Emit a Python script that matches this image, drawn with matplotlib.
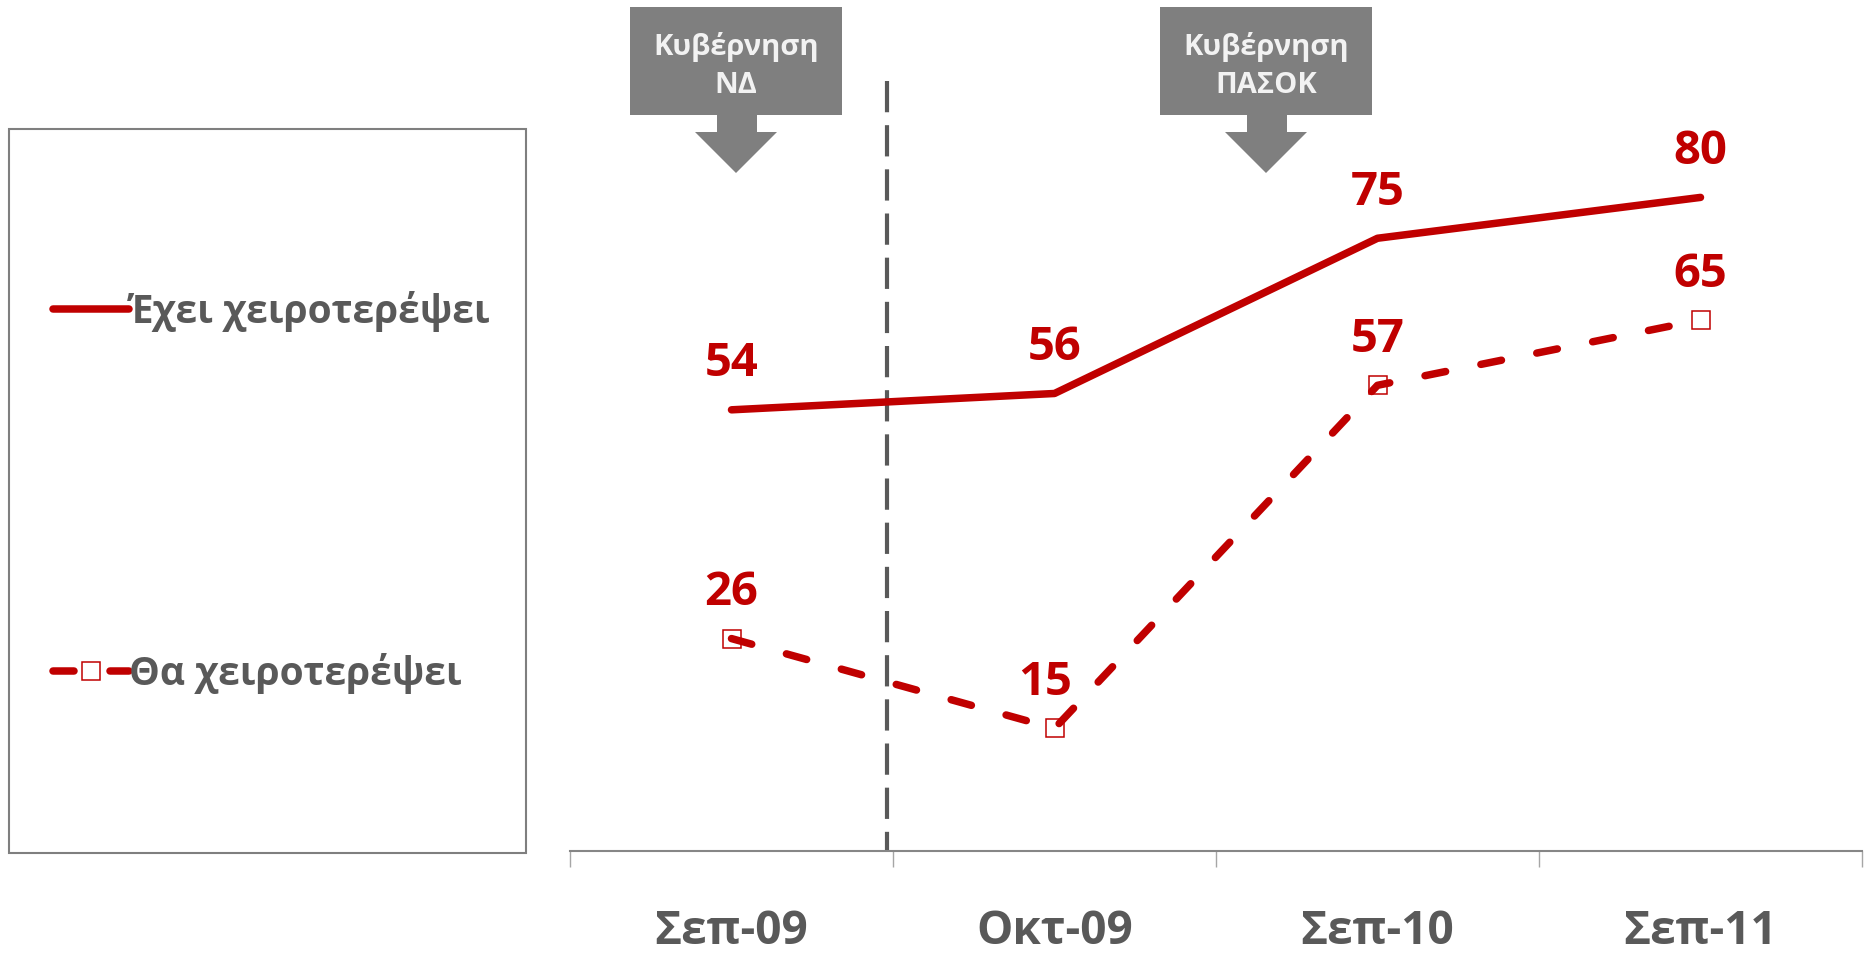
import matplotlib
matplotlib.use('Agg')
import matplotlib.pyplot as plt
from matplotlib.patches import Rectangle, Polygon

# ---------------- data ----------------
categories = ['Σεπ-09', 'Οκτ-09', 'Σεπ-10', 'Σεπ-11']
has_worsened = [54, 56, 75, 80]
will_worsen = [26, 15, 57, 65]
series_names = ['Έχει χειροτερέψει', 'Θα χειροτερέψει']
callout_texts = [['Κυβέρνηση', 'ΝΔ'], ['Κυβέρνηση', 'ΠΑΣΟΚ']]

# ---------------- style ----------------
W, H = 1867, 956
RED = '#C00000'
GREY = '#595959'
BOXGREY = '#7F7F7F'
FONT = ['Open Sans', 'DejaVu Sans']

fig = plt.figure(figsize=(W / 100, H / 100), dpi=100)
ax = fig.add_axes([570 / W, 1 - 851 / H, 1292 / W, 817 / H])

xs = list(range(len(categories)))

# separator (government change)
ax.plot([0.48, 0.48], [94.2, 0], color=GREY, lw=3, ls=(0, (7.5, 3.1)),
        dash_capstyle='butt', zorder=1, clip_on=False)

l1, = ax.plot(xs, has_worsened, color=RED, lw=5.4, solid_capstyle='round',
              solid_joinstyle='round', zorder=3, label=series_names[0])
l2, = ax.plot(xs, will_worsen, color=RED, lw=5.4, ls=(0, (2.8, 4.8)),
              dash_capstyle='round', marker='s', ms=13, mfc='none', mec=RED,
              mew=1.1, zorder=3, label=series_names[1])

# data labels
for series in (has_worsened, will_worsen):
    for xi, v in zip(xs, series):
        dx = -7 if (series is will_worsen and xi == 1) else 0
        ax.annotate(str(v), (xi, v), xytext=(dx, 24), textcoords='offset points',
                    ha='center', va='baseline', fontsize=34, fontweight='bold',
                    color=RED, family=FONT)

ax.set_xlim(-0.5, len(categories) - 0.5)
ax.set_ylim(0, 100)
ax.set_xticks(xs)
ax.set_xticklabels(categories)
ax.set_xticks([i - 0.5 for i in range(len(categories) + 1)], minor=True)
ax.tick_params(axis='x', which='major', length=0, pad=41, labelsize=33,
               labelcolor=GREY)
ax.tick_params(axis='x', which='minor', length=11.5, width=1.0,
               color='#A6A6A6', direction='out')
for lbl in ax.get_xticklabels():
    lbl.set_fontfamily(FONT)
    lbl.set_fontweight('bold')
ax.set_yticks([])
for s in ['left', 'right', 'top']:
    ax.spines[s].set_visible(False)
ax.spines['bottom'].set_color('#868686')
ax.spines['bottom'].set_linewidth(1.5)

# legend
leg_kw = dict(frameon=False, handlelength=1.95, handletextpad=0.0, borderpad=0,
              borderaxespad=0, prop=dict(family=FONT, weight='bold', size=28),
              labelcolor=GREY, loc='center left')
fig.legend([l1], [series_names[0]], bbox_to_anchor=(53 / W, 1 - 311 / H), **leg_kw)
fig.legend([l2], [series_names[1]], bbox_to_anchor=(53 / W, 1 - 673 / H), **leg_kw)
fig.add_artist(Rectangle((9 / W, 1 - 853 / H), (526 - 9) / W, (853 - 129) / H,
                         transform=fig.transFigure, fill=False,
                         ec=BOXGREY, lw=1.5))


# callouts (box + down arrow)
def callout(left, lines):
    pts = [(left, 7), (left + 212, 7), (left + 212, 115), (left + 127, 115),
           (left + 127, 132), (left + 147, 132), (left + 106, 173),
           (left + 65, 132), (left + 87, 132), (left + 87, 115), (left, 115)]
    pts = [(px / W, 1 - py / H) for px, py in pts]
    fig.add_artist(Polygon(pts, closed=True, transform=fig.transFigure,
                           fc=BOXGREY, ec='none'))
    for txt, base in zip(lines, (55, 93)):
        fig.text((left + 106) / W, 1 - base / H, txt, ha='center', va='baseline',
                 fontsize=21, fontweight='bold', color='#F2F2F2', family=FONT)


callout(630, callout_texts[0])
callout(1160, callout_texts[1])

fig.savefig('out.png', dpi=100)
